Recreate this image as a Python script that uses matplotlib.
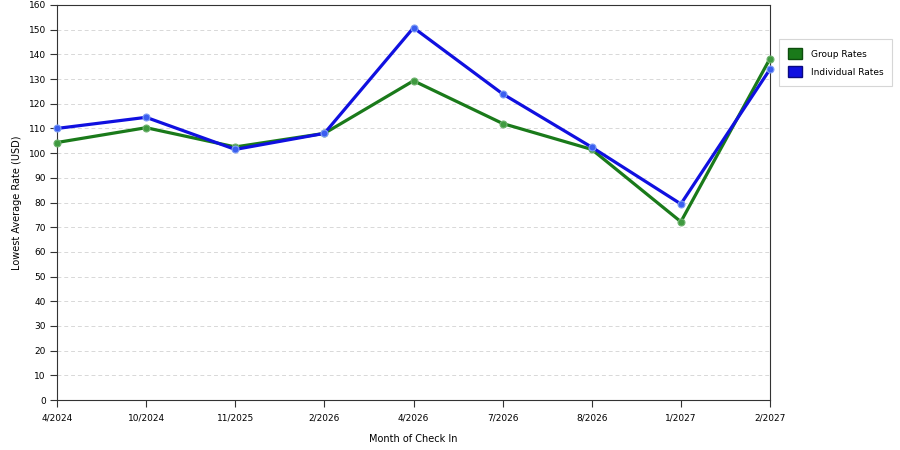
import matplotlib.pyplot as plt
from matplotlib.patches import Patch

months = ["4/2024", "10/2024", "11/2025", "2/2026", "4/2026", "7/2026", "8/2026", "1/2027", "2/2027"]
group_rates = [104.3, 110.3, 102.5, 108, 129.3, 112, 101.5, 72.2, 138.3]
individual_rates = [110, 114.5, 101.5, 108, 150.8, 124, 102.4, 79.4, 134]

green = "#1a7a1a"
blue = "#1010e0"

plt.rcParams['font.family'] = ['DejaVu Sans']
fig = plt.figure(figsize=(9, 4.5), dpi=100)
ax = fig.add_axes([57 / 900, 50 / 450, 713 / 900, 395 / 450])

x = list(range(len(months)))
ax.plot(x, group_rates, color=green, lw=2.3, marker='o', ms=5,
        mfc="#3f9a3f", mec="#6fb26f", mew=0.8, zorder=3, clip_on=False)
ax.plot(x, individual_rates, color=blue, lw=2.3, marker='o', ms=5,
        mfc="#3a5ef0", mec="#7f9ef5", mew=0.8, zorder=4, clip_on=False)

ax.set_xlim(0, len(months) - 1)
ax.set_ylim(0, 160)
ax.set_xticks(x)
ax.set_xticklabels(months)
ax.set_yticks(range(0, 161, 10))
ax.tick_params(axis='both', labelsize=6.5, length=5, width=0.8, color="#333333", pad=3)
ax.tick_params(axis='x', pad=5)
ax.yaxis.grid(True, linestyle=(0, (4, 3)), color="#d8d8d8", lw=0.7)
ax.set_axisbelow(True)
for s in ax.spines.values():
    s.set_color("#333333")
    s.set_linewidth(0.8)

ax.set_xlabel("Month of Check In", fontsize=7, labelpad=8)
ax.set_ylabel("Lowest Average Rate (USD)", fontsize=7, labelpad=5)

handles = [Patch(facecolor=green, edgecolor="#0d4d0d", label="Group Rates"),
           Patch(facecolor=blue, edgecolor="#0a0a80", label="Individual Rates")]
leg = fig.legend(handles=handles, loc='upper left', bbox_to_anchor=(779 / 900, 1 - 39 / 450),
                 fontsize=6.5, frameon=True, fancybox=False, handlelength=1.5, handleheight=1.5,
                 borderpad=1.0, labelspacing=0.8, handletextpad=1.0, borderaxespad=0)
leg.get_frame().set_edgecolor("#cccccc")
leg.get_frame().set_linewidth(0.8)

fig.savefig("out.png", dpi=100)
